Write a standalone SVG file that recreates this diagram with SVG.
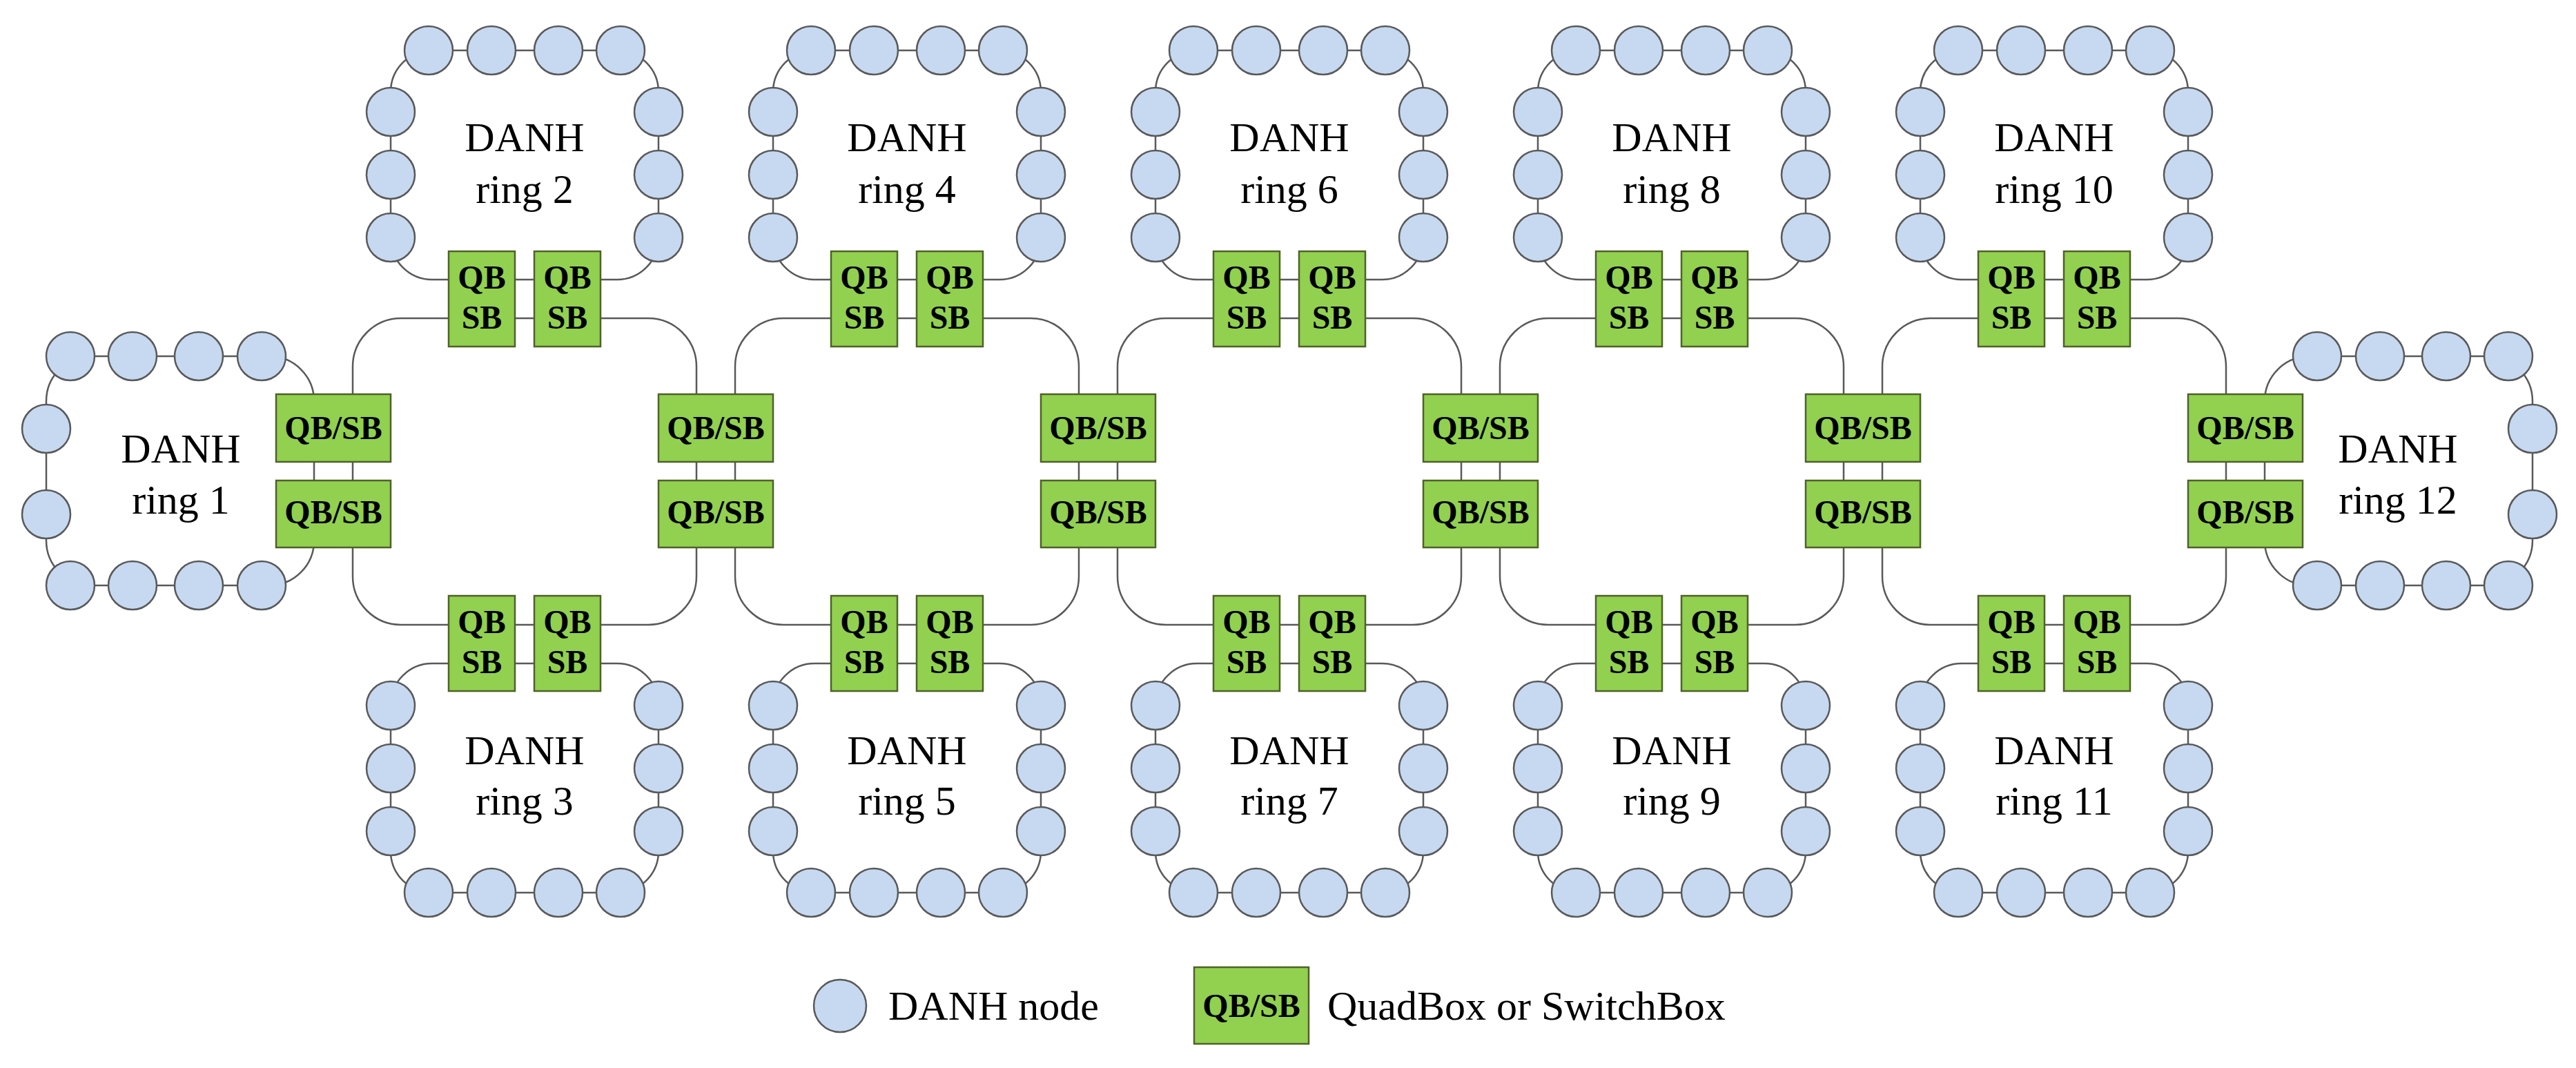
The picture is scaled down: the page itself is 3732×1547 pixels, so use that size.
<svg xmlns="http://www.w3.org/2000/svg" xmlns:xlink="http://www.w3.org/1999/xlink" width="3732" height="1547" viewBox="0 0 3732 1547">
<style>
.ln{fill:none;stroke:#595959;stroke-width:2.5}
.nd{fill:#c6d9f1;stroke:#595959;stroke-width:2.5}
.bx{fill:#92d050;stroke:#4f6228;stroke-width:2.5}
.lb{font-family:"Liberation Serif",serif;font-size:60px;text-anchor:middle;fill:#000}
.bt{font-family:"Liberation Serif",serif;font-size:48px;font-weight:bold;text-anchor:middle;fill:#000}
.lg{font-family:"Liberation Serif",serif;font-size:60px;fill:#000}
</style>
<defs>
<g id="ringT">
<path class="ln" d="M -110 405 H -134 A 60 60 0 0 1 -194 345 V 133 A 60 60 0 0 1 -134 73 H 134 A 60 60 0 0 1 194 133 V 345 A 60 60 0 0 1 134 405 H 110 Z"/>
<circle class="nd" cx="-139" cy="73" r="35"/><circle class="nd" cx="-48" cy="73" r="35"/><circle class="nd" cx="49" cy="73" r="35"/><circle class="nd" cx="139" cy="73" r="35"/>
<circle class="nd" cx="-194" cy="162" r="35"/><circle class="nd" cx="-194" cy="253" r="35"/><circle class="nd" cx="-194" cy="344" r="35"/>
<circle class="nd" cx="194" cy="162" r="35"/><circle class="nd" cx="194" cy="253" r="35"/><circle class="nd" cx="194" cy="344" r="35"/>
</g>
<g id="ringE">
<rect class="ln" x="67" y="516" width="388" height="332" rx="65"/>
<circle class="nd" cx="102" cy="516" r="35"/><circle class="nd" cx="192" cy="516" r="35"/><circle class="nd" cx="288" cy="516" r="35"/><circle class="nd" cx="379" cy="516" r="35"/>
<circle class="nd" cx="102" cy="848" r="35"/><circle class="nd" cx="192" cy="848" r="35"/><circle class="nd" cx="288" cy="848" r="35"/><circle class="nd" cx="379" cy="848" r="35"/>
<circle class="nd" cx="67" cy="621" r="35"/><circle class="nd" cx="67" cy="745" r="35"/>
</g>
<g id="pair">
<rect class="bx" x="-110" y="0" width="96" height="138"/><rect class="bx" x="14" y="0" width="96" height="138"/>
<text class="bt" x="-62" y="54">QB</text><text class="bt" x="-62" y="112">SB</text>
<text class="bt" x="62" y="54">QB</text><text class="bt" x="62" y="112">SB</text>
</g>
<g id="junc">
<rect class="bx" x="-83" y="571" width="166" height="98"/><rect class="bx" x="-83" y="696" width="166" height="97"/>
<text class="bt" x="0" y="636">QB/SB</text><text class="bt" x="0" y="758">QB/SB</text>
</g>
</defs>
<g id="connectors">
<rect class="ln" x="511" y="461" width="498" height="444" rx="70"/>
<rect class="ln" x="1065" y="461" width="498" height="444" rx="70"/>
<rect class="ln" x="1619" y="461" width="498" height="444" rx="70"/>
<rect class="ln" x="2173" y="461" width="498" height="444" rx="70"/>
<rect class="ln" x="2727" y="461" width="498" height="444" rx="70"/>
</g>
<g id="ring1"><use xlink:href="#ringE"/><text class="lb" x="262" y="670">DANH</text><text class="lb" x="262" y="744">ring 1</text></g>
<g id="ring12"><use xlink:href="#ringE" transform="translate(3736,0) scale(-1,1)"/><text class="lb" x="3474" y="670">DANH</text><text class="lb" x="3474" y="744">ring 12</text></g>
<g id="ring2"><use xlink:href="#ringT" transform="translate(760,0)"/><text class="lb" x="760" y="219">DANH</text><text class="lb" x="760" y="294">ring 2</text></g>
<g id="ring4"><use xlink:href="#ringT" transform="translate(1314,0)"/><text class="lb" x="1314" y="219">DANH</text><text class="lb" x="1314" y="294">ring 4</text></g>
<g id="ring6"><use xlink:href="#ringT" transform="translate(1868,0)"/><text class="lb" x="1868" y="219">DANH</text><text class="lb" x="1868" y="294">ring 6</text></g>
<g id="ring8"><use xlink:href="#ringT" transform="translate(2422,0)"/><text class="lb" x="2422" y="219">DANH</text><text class="lb" x="2422" y="294">ring 8</text></g>
<g id="ring10"><use xlink:href="#ringT" transform="translate(2976,0)"/><text class="lb" x="2976" y="219">DANH</text><text class="lb" x="2976" y="294">ring 10</text></g>
<g id="ring3"><use xlink:href="#ringT" transform="translate(760,1366) scale(1,-1)"/><text class="lb" x="760" y="1107">DANH</text><text class="lb" x="760" y="1180">ring 3</text></g>
<g id="ring5"><use xlink:href="#ringT" transform="translate(1314,1366) scale(1,-1)"/><text class="lb" x="1314" y="1107">DANH</text><text class="lb" x="1314" y="1180">ring 5</text></g>
<g id="ring7"><use xlink:href="#ringT" transform="translate(1868,1366) scale(1,-1)"/><text class="lb" x="1868" y="1107">DANH</text><text class="lb" x="1868" y="1180">ring 7</text></g>
<g id="ring9"><use xlink:href="#ringT" transform="translate(2422,1366) scale(1,-1)"/><text class="lb" x="2422" y="1107">DANH</text><text class="lb" x="2422" y="1180">ring 9</text></g>
<g id="ring11"><use xlink:href="#ringT" transform="translate(2976,1366) scale(1,-1)"/><text class="lb" x="2976" y="1107">DANH</text><text class="lb" x="2976" y="1180">ring 11</text></g>
<g id="boxes-top">
<use xlink:href="#pair" transform="translate(760,364)"/><use xlink:href="#pair" transform="translate(1314,364)"/><use xlink:href="#pair" transform="translate(1868,364)"/><use xlink:href="#pair" transform="translate(2422,364)"/><use xlink:href="#pair" transform="translate(2976,364)"/>
</g>
<g id="boxes-bottom">
<use xlink:href="#pair" transform="translate(760,863)"/><use xlink:href="#pair" transform="translate(1314,863)"/><use xlink:href="#pair" transform="translate(1868,863)"/><use xlink:href="#pair" transform="translate(2422,863)"/><use xlink:href="#pair" transform="translate(2976,863)"/>
</g>
<g id="junctions">
<use xlink:href="#junc" transform="translate(483,0)"/><use xlink:href="#junc" transform="translate(1037,0)"/><use xlink:href="#junc" transform="translate(1591,0)"/><use xlink:href="#junc" transform="translate(2145,0)"/><use xlink:href="#junc" transform="translate(2699,0)"/><use xlink:href="#junc" transform="translate(3253,0)"/>
</g>
<g id="legend">
<circle class="nd" cx="1217" cy="1457" r="38"/>
<text class="lg" x="1287" y="1477">DANH node</text>
<rect class="bx" x="1730" y="1401" width="166" height="111"/>
<text class="bt" x="1813" y="1473">QB/SB</text>
<text class="lg" x="1923" y="1477">QuadBox or SwitchBox</text>
</g>
</svg>
